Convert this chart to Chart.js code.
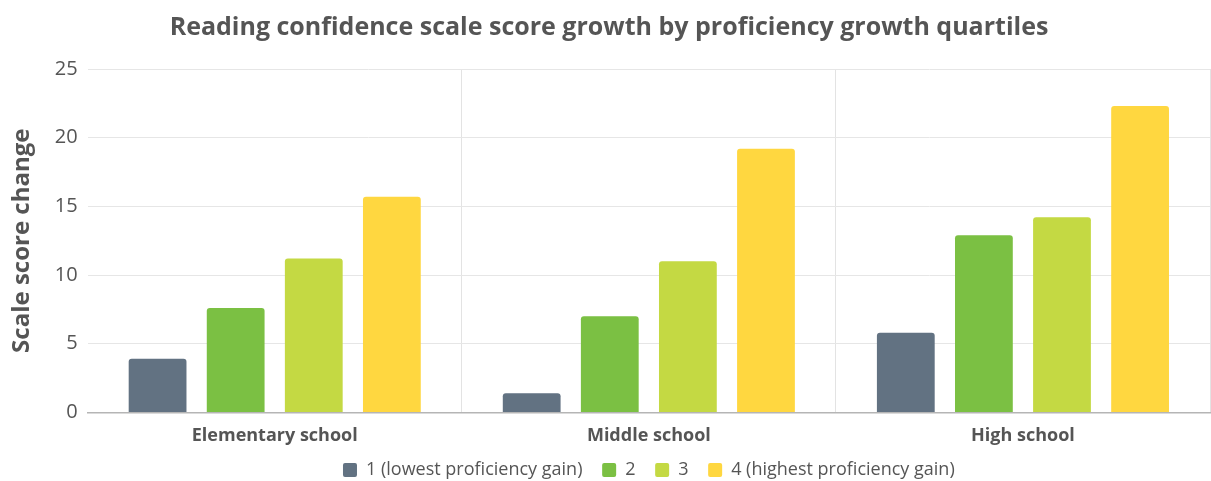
<!DOCTYPE html>
<html>
<head>
<meta charset="utf-8">
<script src="https://cdn.jsdelivr.net/npm/chart.js@4"></script>
<style>
  html, body { margin: 0; padding: 0; background: #fff; }
  #wrap { width: 1211px; height: 481px; position: relative; }
</style>
</head>
<body>
<div id="wrap"><canvas id="chart"></canvas></div>
<script>
// Data
var categories = ['Elementary school', 'Middle school', 'High school'];
var seriesNames = ['1 (lowest proficiency gain)', '2', '3', '4 (highest proficiency gain)'];
var q1 = [3.9, 1.4, 5.8];
var q2 = [7.6, 7.0, 12.9];
var q3 = [11.2, 11.0, 14.2];
var q4 = [15.7, 19.2, 22.3];
var yTicks = [0, 5, 10, 15, 20, 25];

var colors = ['#627282', '#7bc043', '#c4d943', '#ffd740'];
var font = '"Open Sans", Lato, sans-serif';

var datasets = [q1, q2, q3, q4].map(function (vals, i) {
    return {
        label: seriesNames[i],
        data: vals,
        backgroundColor: colors[i],
        borderRadius: 3,
        borderSkipped: 'bottom',
        barPercentage: 0.74,
        categoryPercentage: 0.835
    };
});

// Center the legend under the plot area instead of the whole canvas
var legendUnderPlot = {
    id: 'legendUnderPlot',
    afterLayout: function (chart) {
        if (chart.legend) {
            chart.legend.left = chart.chartArea.left;
            chart.legend.right = chart.chartArea.right;
        }
    }
};

new Chart(document.getElementById('chart'), {
    type: 'bar',
    data: { labels: categories, datasets: datasets },
    plugins: [legendUnderPlot],
    options: {
        responsive: true,
        maintainAspectRatio: false,
        animation: false,
        layout: { padding: { left: 8, right: 1, top: 0, bottom: -8 } },
        plugins: {
            title: {
                display: true,
                text: 'Reading confidence scale score growth by proficiency growth quartiles',
                color: '#555',
                font: { family: font, size: 25, weight: 'bold' },
                padding: { top: 13, bottom: 26 }
            },
            legend: {
                position: 'bottom',
                labels: {
                    color: '#555',
                    font: { family: font, size: 18 },
                    boxWidth: 14,
                    boxHeight: 14,
                    useBorderRadius: true,
                    borderRadius: 2,
                    padding: 1,
                    // room between items, as in the original legend
                    generateLabels: function (chart) {
                        var items = Chart.defaults.plugins.legend.labels.generateLabels(chart);
                        items.forEach(function (it, i) {
                            if (i < items.length - 1) it.text = it.text + '    ';
                        });
                        return items;
                    }
                }
            },
            tooltip: { enabled: false }
        },
        scales: {
            x: {
                grid: {
                    offset: true,
                    drawTicks: false,
                    color: function (ctx) {
                        return (ctx.index === 0 || ctx.index === categories.length) ? 'rgba(0,0,0,0)' : '#e3e3e3';
                    }
                },
                border: { display: true, color: '#b5b5b5', width: 1.5 },
                ticks: {
                    color: '#555',
                    font: { family: font, size: 18, weight: 'bold' },
                    padding: 13
                }
            },
            y: {
                min: 0,
                max: 25,
                afterBuildTicks: function (axis) {
                    axis.ticks = yTicks.map(function (v) { return { value: v }; });
                },
                grid: { color: '#e6e6e6', drawTicks: true, tickLength: 10, tickColor: 'rgba(0,0,0,0)' },
                border: { display: false },
                title: {
                    display: true,
                    text: 'Scale score change',
                    color: '#555',
                    font: { family: font, size: 24, weight: 'bold' },
                    padding: { top: 0, bottom: 18 }
                },
                ticks: {
                    color: '#555',
                    font: { family: font, size: 20 },
                    padding: 0
                }
            }
        }
    }
});
</script>
</body>
</html>
